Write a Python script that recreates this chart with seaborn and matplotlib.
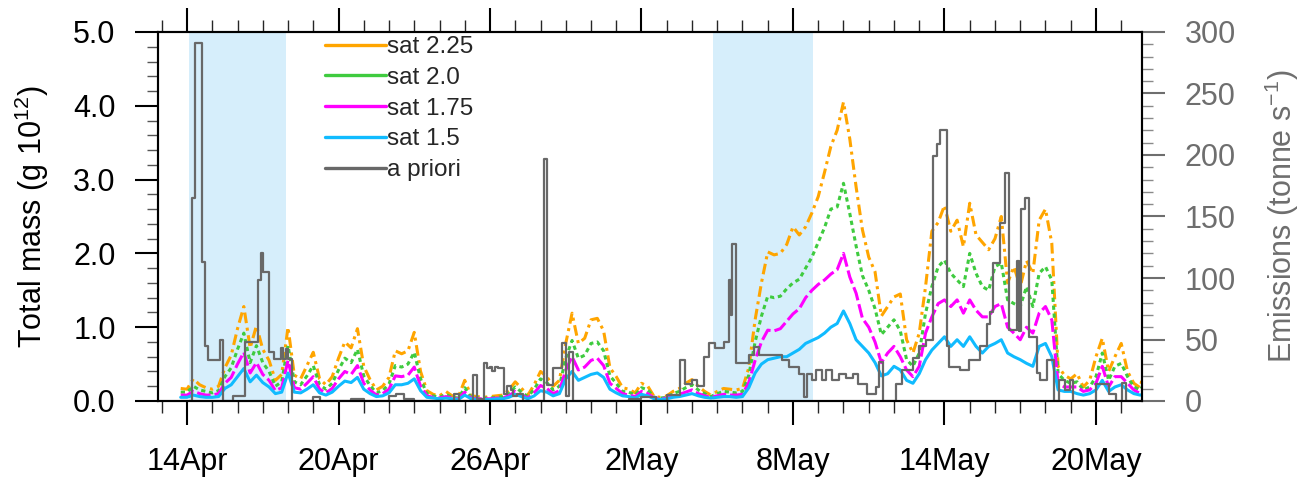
import matplotlib
matplotlib.use("Agg")
import numpy as np
import pandas as pd
import matplotlib.pyplot as plt
import matplotlib.dates as mdates
from matplotlib.lines import Line2D
from matplotlib.ticker import MultipleLocator
import seaborn as sns

sns.set_theme(style="ticks")
plt.rcParams["font.family"] = ["Liberation Sans", "DejaVu Sans"]
plt.rcParams["mathtext.fontset"] = "custom"
plt.rcParams["mathtext.rm"] = "Liberation Sans"
plt.rcParams["mathtext.it"] = "Liberation Sans:italic"

# 6-hourly total mass (g 10^12), 2010-04-13 18:00 .. 2010-05-22 00:00
times = pd.date_range("2010-04-13 18:00", "2010-05-22 00:00", freq="6h")

sat_225 = [
    0.17,
    0.16, 0.30, 0.22, 0.18,  0.16, 0.20, 0.45, 0.62,  0.98, 1.28, 0.72, 1.02,
    0.70, 0.55, 0.28, 0.36,  1.00, 0.35, 0.30, 0.48,  0.66, 0.30, 0.22, 0.33,
    0.58, 0.80, 0.72, 0.98,  0.47, 0.29, 0.15, 0.20,  0.32, 0.68, 0.64, 0.68,
    0.93, 0.40, 0.14, 0.09,  0.07, 0.13, 0.07, 0.06,  0.28, 0.07, 0.06, 0.05,
    0.06, 0.07, 0.08, 0.15,  0.26, 0.17, 0.08, 0.22,  0.40, 0.33, 0.20, 0.28,
    0.78, 1.19, 0.78, 0.85,  1.10, 1.12, 0.95, 0.45,
    0.33, 0.18, 0.16, 0.11,  0.24, 0.20, 0.06, 0.05,  0.07, 0.13, 0.17, 0.24,
    0.29, 0.20, 0.13, 0.08,  0.13, 0.17, 0.16, 0.15,  0.17, 0.45, 1.10, 1.60,
    2.02, 1.98, 2.00, 2.12,  2.36, 2.25, 2.36, 2.55,  2.77, 3.10, 3.45, 3.67,
    4.05, 3.55, 2.90, 2.32,  1.95, 1.75, 1.15, 1.28,  1.41, 1.45, 0.83, 0.65,
    0.92, 1.55, 2.30, 2.42,  2.65, 2.30, 2.45, 2.09,  2.68, 2.25, 2.15, 2.05,
    2.20, 2.50, 1.60, 1.82,  1.55, 1.90, 1.73, 2.45,  2.60, 2.14, 0.47, 0.35,
    0.30, 0.37, 0.19, 0.28,  0.60, 0.85, 0.40, 0.60,  0.78, 0.40, 0.24, 0.18,
    0.56,
]
sat_20 = [
    0.12,
    0.12, 0.20, 0.15, 0.13,  0.11, 0.14, 0.33, 0.45,  0.70, 0.92, 0.52, 0.75,
    0.52, 0.40, 0.20, 0.26,  0.75, 0.26, 0.22, 0.34,  0.48, 0.22, 0.16, 0.24,
    0.42, 0.58, 0.52, 0.70,  0.34, 0.21, 0.11, 0.14,  0.23, 0.48, 0.46, 0.50,
    0.66, 0.30, 0.10, 0.07,  0.05, 0.09, 0.05, 0.04,  0.18, 0.05, 0.04, 0.04,
    0.04, 0.05, 0.06, 0.10,  0.19, 0.12, 0.06, 0.16,  0.30, 0.25, 0.15, 0.20,
    0.58, 0.82, 0.58, 0.62,  0.78, 0.80, 0.68, 0.34,
    0.24, 0.13, 0.12, 0.08,  0.18, 0.15, 0.05, 0.04,  0.05, 0.10, 0.13, 0.18,
    0.22, 0.15, 0.10, 0.06,  0.10, 0.13, 0.12, 0.11,  0.13, 0.35, 0.80, 1.15,
    1.42, 1.40, 1.42, 1.52,  1.60, 1.65, 1.80, 1.95,  2.15, 2.35, 2.60, 2.63,
    2.95, 2.54, 2.10, 1.70,  1.50, 1.25, 0.90, 1.00,  1.10, 0.95, 0.56, 0.47,
    0.65, 1.19, 1.55, 1.82,  1.91, 1.73, 1.64, 1.55,  2.00, 1.73, 1.55, 1.50,
    1.82, 1.87, 1.37, 1.32,  1.28, 1.55, 1.28, 1.73,  1.82, 1.64, 0.37, 0.28,
    0.24, 0.26, 0.15, 0.19,  0.33, 0.65, 0.28, 0.47,  0.51, 0.33, 0.19, 0.15,
    0.28,
]
sat_175 = [
    0.08,
    0.08, 0.13, 0.10, 0.08,  0.08, 0.10, 0.24, 0.32,  0.50, 0.66, 0.38, 0.52,
    0.36, 0.28, 0.14, 0.18,  0.55, 0.18, 0.16, 0.24,  0.33, 0.16, 0.11, 0.17,
    0.30, 0.40, 0.36, 0.48,  0.24, 0.15, 0.08, 0.10,  0.16, 0.34, 0.33, 0.35,
    0.46, 0.20, 0.07, 0.05,  0.04, 0.06, 0.04, 0.03,  0.12, 0.04, 0.03, 0.03,
    0.03, 0.04, 0.04, 0.07,  0.13, 0.08, 0.04, 0.11,  0.21, 0.17, 0.10, 0.14,
    0.42, 0.60, 0.42, 0.46,  0.55, 0.58, 0.48, 0.24,
    0.17, 0.10, 0.08, 0.06,  0.13, 0.10, 0.04, 0.03,  0.04, 0.07, 0.09, 0.12,
    0.15, 0.10, 0.07, 0.05,  0.07, 0.09, 0.08, 0.08,  0.09, 0.25, 0.55, 0.80,
    0.96, 0.95, 0.98, 1.08,  1.18, 1.25, 1.40, 1.50,  1.58, 1.64, 1.72, 1.78,
    2.00, 1.68, 1.46, 1.12,  1.00, 0.80, 0.52, 0.65,  0.74, 0.60, 0.42, 0.33,
    0.47, 0.92, 1.14, 1.32,  1.37, 1.28, 1.37, 1.19,  1.37, 1.23, 1.14, 1.14,
    1.28, 1.32, 1.00, 0.92,  0.83, 1.00, 0.92, 1.19,  1.28, 1.10, 0.24, 0.19,
    0.19, 0.19, 0.13, 0.15,  0.24, 0.47, 0.19, 0.33,  0.33, 0.24, 0.15, 0.10,
    0.19,
]
sat_15 = [
    0.05,
    0.05, 0.08, 0.06, 0.05,  0.05, 0.06, 0.17, 0.22,  0.33, 0.44, 0.26, 0.35,
    0.25, 0.19, 0.10, 0.12,  0.38, 0.12, 0.11, 0.16,  0.22, 0.11, 0.08, 0.12,
    0.20, 0.27, 0.25, 0.32,  0.16, 0.10, 0.06, 0.07,  0.11, 0.22, 0.22, 0.24,
    0.30, 0.14, 0.05, 0.04,  0.03, 0.04, 0.03, 0.02,  0.08, 0.03, 0.02, 0.02,
    0.02, 0.03, 0.03, 0.05,  0.09, 0.06, 0.03, 0.07,  0.14, 0.12, 0.07, 0.10,
    0.30, 0.40, 0.28, 0.32,  0.36, 0.38, 0.32, 0.16,
    0.11, 0.07, 0.06, 0.04,  0.09, 0.07, 0.03, 0.02,  0.03, 0.05, 0.06, 0.08,
    0.10, 0.07, 0.05, 0.04,  0.05, 0.06, 0.06, 0.05,  0.06, 0.18, 0.38, 0.50,
    0.56, 0.58, 0.60, 0.60,  0.65, 0.70, 0.78, 0.82,  0.86, 0.92, 1.00, 1.05,
    1.22, 1.05, 0.83, 0.74,  0.65, 0.52, 0.34, 0.37,  0.47, 0.42, 0.28, 0.24,
    0.37, 0.56, 0.69, 0.78,  0.87, 0.74, 0.83, 0.74,  0.87, 0.74, 0.65, 0.74,
    0.78, 0.83, 0.65, 0.60,  0.56, 0.51, 0.47, 0.74,  0.78, 0.60, 0.15, 0.13,
    0.13, 0.10, 0.08, 0.10,  0.15, 0.28, 0.13, 0.19,  0.22, 0.15, 0.10, 0.08,
    0.10,
]

# a priori emission rate (tonne s-1), piecewise constant from each time
apriori_time = pd.to_datetime([
    "2010-04-13 18:00", "2010-04-14 05:00", "2010-04-14 08:00", "2010-04-14 14:00",
    "2010-04-14 17:00", "2010-04-14 20:00", "2010-04-15 07:00", "2010-04-15 10:00",
    "2010-04-15 20:00", "2010-04-16 07:00", "2010-04-16 19:00", "2010-04-16 22:00",
    "2010-04-17 00:00", "2010-04-17 06:00", "2010-04-17 11:00", "2010-04-17 17:00",
    "2010-04-17 19:00", "2010-04-17 22:00", "2010-04-18 00:00", "2010-04-18 04:00",
    "2010-04-19 00:00", "2010-04-19 06:00", "2010-04-20 12:00", "2010-04-21 00:00",
    "2010-04-22 00:00", "2010-04-22 07:00", "2010-04-22 14:00", "2010-04-23 00:00",
    "2010-04-24 14:00", "2010-04-24 19:00", "2010-04-25 08:00", "2010-04-25 12:00",
    "2010-04-25 18:00", "2010-04-25 21:00", "2010-04-26 00:00", "2010-04-26 02:00",
    "2010-04-26 05:00", "2010-04-26 08:00", "2010-04-26 13:00", "2010-04-26 16:00",
    "2010-04-26 20:00", "2010-04-26 22:00", "2010-04-27 02:00", "2010-04-27 07:00",
    "2010-04-28 03:00", "2010-04-28 06:00", "2010-04-28 12:00", "2010-04-28 20:00",
    "2010-04-29 00:00", "2010-04-29 03:00", "2010-04-29 07:00", "2010-05-01 12:00",
    "2010-05-02 00:00", "2010-05-02 14:00", "2010-05-03 00:00", "2010-05-03 13:00",
    "2010-05-03 17:00", "2010-05-04 00:00", "2010-05-04 05:00", "2010-05-04 11:00",
    "2010-05-04 16:00", "2010-05-04 22:00", "2010-05-05 06:00", "2010-05-05 11:00",
    "2010-05-05 13:00", "2010-05-05 14:00", "2010-05-05 18:00", "2010-05-06 06:00",
    "2010-05-06 11:00", "2010-05-06 16:00", "2010-05-07 14:00", "2010-05-07 20:00",
    "2010-05-08 06:00", "2010-05-08 10:00", "2010-05-08 13:00", "2010-05-08 18:00",
    "2010-05-08 22:00", "2010-05-09 04:00", "2010-05-09 07:00", "2010-05-09 13:00",
    "2010-05-09 20:00", "2010-05-10 02:00", "2010-05-10 09:00", "2010-05-10 14:00",
    "2010-05-10 22:00", "2010-05-11 07:00", "2010-05-11 10:00", "2010-05-11 14:00",
    "2010-05-12 02:00", "2010-05-12 08:00", "2010-05-12 18:00", "2010-05-13 00:00",
    "2010-05-13 06:00", "2010-05-13 13:00", "2010-05-13 17:00", "2010-05-13 20:00",
    "2010-05-14 02:00", "2010-05-14 04:00", "2010-05-14 15:00", "2010-05-14 23:00",
    "2010-05-15 10:00", "2010-05-15 16:00", "2010-05-15 19:00", "2010-05-15 22:00",
    "2010-05-16 05:00", "2010-05-16 10:00", "2010-05-16 13:00", "2010-05-16 21:00",
    "2010-05-16 23:00", "2010-05-17 01:00", "2010-05-17 05:00", "2010-05-17 08:00",
    "2010-05-17 16:00", "2010-05-17 19:00", "2010-05-18 01:00", "2010-05-18 08:00",
    "2010-05-18 13:00", "2010-05-18 19:00", "2010-05-18 23:00", "2010-05-19 02:00",
    "2010-05-20 00:00", "2010-05-20 12:00", "2010-05-20 19:00", "2010-05-21 01:00",
    "2010-05-21 05:00", "2010-05-22 00:00",
])
apriori_flux = [
    0, 165, 291, 113, 45, 33, 50, 0, 4, 48, 98, 120,
    105, 40, 34, 43, 34, 42, 34, 0, 3, 0, 2, 0,
    4, 6, 2, 0, 6, 0, 21, 2, 31, 27, 28, 24,
    28, 27, 6, 12, 9, 4, 6, 0, 197, 13, 27, 47,
    4, 40, 0, 2, 3, 0, 5, 33, 14, 17, 12, 36,
    47, 43, 48, 98, 70, 128, 31, 37, 44, 37, 33, 28,
    22, 3, 22, 17, 25, 17, 25, 17, 22, 19, 22, 14,
    6, 11, 32, 0, 14, 25, 35, 45, 50, 199, 209, 220,
    45, 28, 25, 33, 45, 63, 72, 112, 145, 185, 58, 114,
    57, 156, 165, 52, 23, 17, 33, 0, 17, 9, 17, 0,
    14, 6, 0, 15, 0, 0,
]

series_names = ["sat 2.25", "sat 2.0", "sat 1.75", "sat 1.5"]
series_values = [sat_225, sat_20, sat_175, sat_15]
series_colors = ["#FFA500", "#3FCB3F", "#FF00FF", "#10BBFF"]
series_styles = [(0, (3.5, 1.5, 1.0, 1.5)), (0, (1.4, 1.2)), (0, (4.5, 1.3)), "-"]
apriori_color = "#686868"
right_color = "#6e6e6e"

tick_dates = pd.to_datetime(["2010-04-14", "2010-04-20", "2010-04-26", "2010-05-02",
                             "2010-05-08", "2010-05-14", "2010-05-20"])
tick_labels = ["14Apr", "20Apr", "26Apr", "2May", "8May", "14May", "20May"]
shaded_periods = [("2010-04-14 02:00", "2010-04-17 22:00"),
                  ("2010-05-04 20:00", "2010-05-08 19:00")]

W, H = 1311, 486
fig = plt.figure(figsize=(W / 100, H / 100), dpi=100)
ax = fig.add_axes([158 / W, 1 - 401 / H, (1142 - 158) / W, (401 - 32) / H])
ax2 = ax.twinx()

for start, end in shaded_periods:
    ax.axvspan(pd.Timestamp(start), pd.Timestamp(end), color="#D6EEFB", lw=0, zorder=0)

for vals, col, ls in zip(series_values, series_colors, series_styles):
    sns.lineplot(x=times, y=vals, ax=ax, color=col, linewidth=2.2, linestyle=ls,
                 estimator=None, legend=False)

sns.lineplot(x=apriori_time, y=apriori_flux, ax=ax2, color=apriori_color,
             linewidth=1.6, drawstyle="steps-post", estimator=None, legend=False)

ax.set_xlim(pd.Timestamp("2010-04-12 20:25"), pd.Timestamp("2010-05-21 19:45"))
ax.set_ylim(0, 5)
ax2.set_ylim(0, 300)

ax.set_xticks(tick_dates)
ax.set_xticklabels(tick_labels)
ax.xaxis.set_minor_locator(mdates.DayLocator())
ax.yaxis.set_major_locator(MultipleLocator(1.0))
ax.yaxis.set_minor_locator(MultipleLocator(0.2))
ax.set_yticklabels([f"{v:.1f}" for v in ax.get_yticks()])
ax2.yaxis.set_major_locator(MultipleLocator(50))
ax2.yaxis.set_minor_locator(MultipleLocator(10))

ax.tick_params(axis="x", which="major", direction="out", length=17, width=1.5,
               bottom=True, top=True, labelsize=22, pad=16, colors="black")
ax.tick_params(axis="x", which="minor", direction="out", length=8.5, width=1.0,
               bottom=True, top=True)
ax.tick_params(axis="y", which="major", direction="out", length=16.5, width=1.5,
               left=True, labelsize=22, pad=14, colors="black")
ax.tick_params(axis="y", which="minor", direction="out", length=8, width=1.0, left=True,
               color="#555555")
ax2.tick_params(axis="y", which="major", direction="out", length=16.5, width=1.5,
                right=True, labelsize=22, pad=14, colors=right_color)
ax2.tick_params(axis="y", which="minor", direction="out", length=8, width=1.0,
                right=True, color="#8a8a8a")

for a in (ax, ax2):
    for sp in a.spines.values():
        sp.set_color("black")
        sp.set_linewidth(1.5)

ax.set_xlabel("")
ax.set_ylabel("Total mass (g 10$^{12}$)", fontsize=22, color="black")
ax.yaxis.set_label_coords(-0.109, 0.5)
ax2.set_ylabel("Emissions (tonne s$^{-1}$)", fontsize=22, color=right_color)
ax2.yaxis.set_label_coords(1.123, 0.5)

handles = [Line2D([0], [0], color=c, lw=2.4) for c in series_colors]
handles.append(Line2D([0], [0], color=apriori_color, lw=2.4))
labels = series_names + ["a priori"]
ax2.legend(handles, labels, loc="upper left", bbox_to_anchor=(325 / W, 1 - 36 / H),
           bbox_transform=fig.transFigure, frameon=False, fontsize=17.5,
           handlelength=2.5, handletextpad=0.05, labelspacing=0.36,
           borderpad=0, borderaxespad=0)

fig.savefig("out.png", dpi=100)
